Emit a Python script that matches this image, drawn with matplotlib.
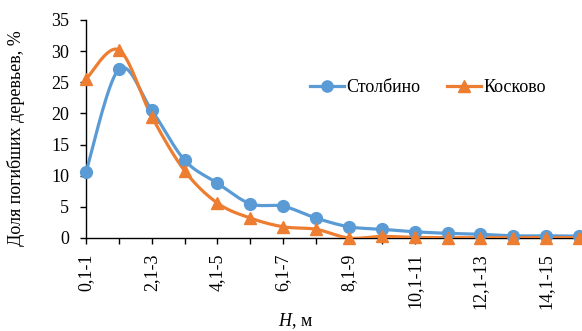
import matplotlib.pyplot as plt
import numpy as np

plt.rcParams['font.family'] = 'Liberation Serif'
plt.rcParams['mathtext.fontset'] = 'custom'
plt.rcParams['mathtext.it'] = 'Liberation Serif:italic'
plt.rcParams['mathtext.rm'] = 'Liberation Serif'

# height classes, m
categories = ['0,1-1', '1,1-2', '2,1-3', '3,1-4', '4,1-5', '5,1-6', '6,1-7', '7,1-8',
              '8,1-9', '9,1-10', '10,1-11', '11,1-12', '12,1-13', '13,1-14', '14,1-15', '15,1-16']
stolbino = [10.6, 27.1, 20.5, 12.5, 8.8, 5.5, 5.1, 3.2, 1.8, 1.4, 1.0, 0.75, 0.6, 0.35, 0.35, 0.3]
koskovo = [25.5, 30.2, 19.5, 10.8, 5.6, 3.2, 1.8, 1.4, 0.0, 0.25, 0.1, 0.05, 0.05, 0.05, 0.05, 0.05]


def smooth(y, n=20):
    # Catmull-Rom curve through the points (like Excel "smoothed line")
    y = np.asarray(y, dtype=float)
    x = np.arange(len(y), dtype=float)
    px = np.concatenate([[x[0]], x, [x[-1]]])
    py = np.concatenate([[y[0]], y, [y[-1]]])
    xs, ys = [], []
    t = np.linspace(0, 1, n, endpoint=False)
    for i in range(1, len(px) - 2):
        for arr, out in ((px, xs), (py, ys)):
            p0, p1, p2, p3 = arr[i - 1], arr[i], arr[i + 1], arr[i + 2]
            c1 = p1 + (p2 - p0) / 6
            c2 = p2 - (p3 - p1) / 6
            out.extend((1 - t) ** 3 * p1 + 3 * (1 - t) ** 2 * t * c1 + 3 * (1 - t) * t ** 2 * c2 + t ** 3 * p2)
    xs.append(x[-1])
    ys.append(y[-1])
    return np.array(xs), np.array(ys)


fs = 13
fig = plt.figure(figsize=(5.82, 3.31), dpi=100)
ax = fig.add_axes([86 / 582, 1 - 238 / 331, 1 - 86 / 582, 218 / 331])

blue = '#5B9BD5'
orange = '#ED7D31'
x = np.arange(len(categories))

sx, sy = smooth(stolbino)
ax.plot(sx, sy, color=blue, lw=2.3, zorder=3)
ax.plot(x, stolbino, ls='none', marker='o', ms=8.5, color=blue, zorder=4, clip_on=False)
kx, ky = smooth(koskovo)
ax.plot(kx, ky, color=orange, lw=2.3, zorder=3)
ax.plot(x, koskovo, ls='none', marker='^', ms=8.5, color=orange, zorder=4, clip_on=False)

# legend handles
ax.plot([], [], color=blue, lw=2.3, marker='o', ms=8.5, label='Столбино')
ax.plot([], [], color=orange, lw=2.3, marker='^', ms=8.5, label='Косково')
ax.legend(loc='center', bbox_to_anchor=(428 / 582, 1 - 88 / 331), bbox_transform=fig.transFigure,
          ncol=2, frameon=False, fontsize=fs, handlelength=1.85, handletextpad=0.15,
          columnspacing=1.5, markerscale=0.95)

ax.set_xlim(0, 15.09)
ax.set_ylim(0, 35)
ax.set_yticks(np.arange(0, 36, 5))
ax.set_xticks(x)
ax.set_xticklabels([c if i % 2 == 0 else '' for i, c in enumerate(categories)], rotation=90)
ax.spines['top'].set_visible(False)
ax.spines['right'].set_visible(False)
ax.tick_params(axis='both', labelsize=fs, direction='out', length=4, width=1, color='black')
ax.tick_params(axis='x', pad=7)
ax.tick_params(axis='y', pad=8)
for s in ('left', 'bottom'):
    ax.spines[s].set_linewidth(1)

fig.text(16 / 582, 1 - 138 / 331, 'Доля погибших деревьев, %', rotation=90,
         ha='center', va='center', fontsize=fs)
fig.text(296 / 582, 1 - 321 / 331, '$H$, м', ha='center', va='center', fontsize=fs)

fig.savefig('out.png', dpi=100)
